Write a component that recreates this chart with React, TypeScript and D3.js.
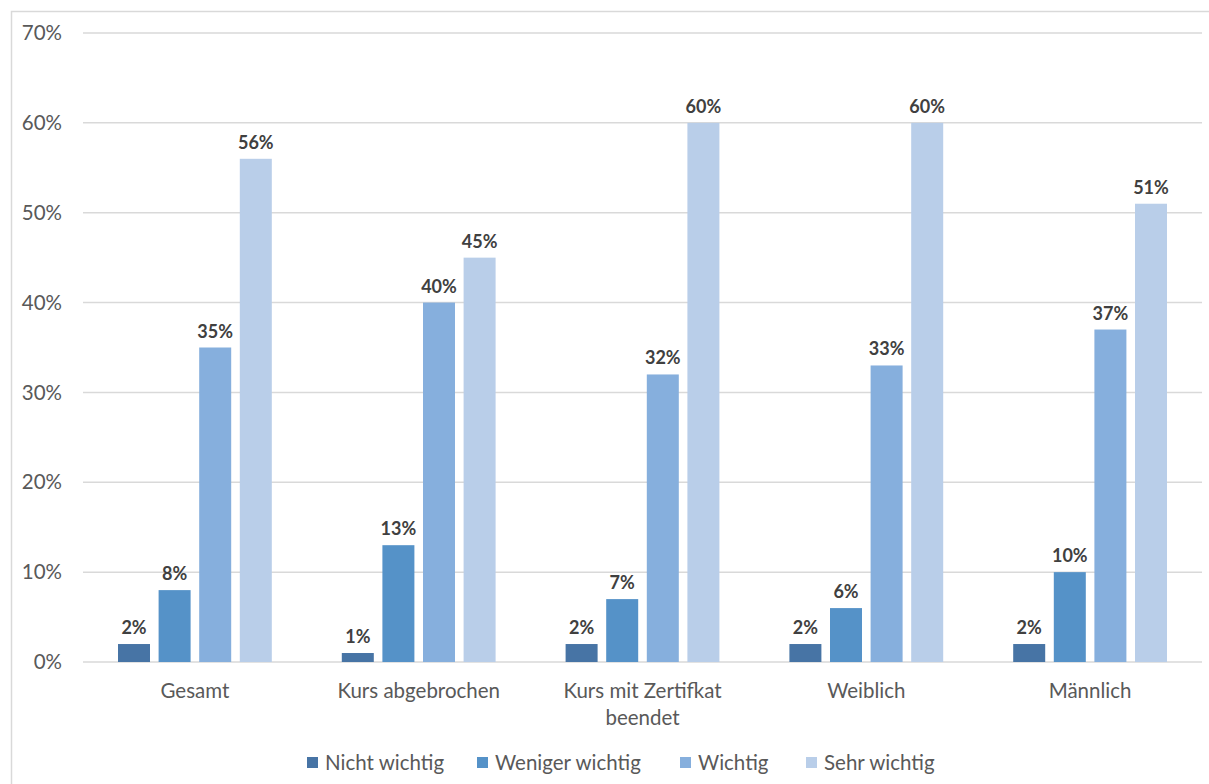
import React from "react";
import * as d3 from "d3";

const categories = ["Gesamt", "Kurs abgebrochen", "Kurs mit Zertifkat\nbeendet", "Weiblich", "Männlich"];
const seriesNames = ["Nicht wichtig", "Weniger wichtig", "Wichtig", "Sehr wichtig"];
const nichtWichtig = [2, 1, 2, 2, 2];
const wenigerWichtig = [8, 13, 7, 6, 10];
const wichtig = [35, 40, 32, 33, 37];
const sehrWichtig = [56, 45, 60, 60, 51];
const yTicks = [0, 10, 20, 30, 40, 50, 60, 70];
const colors = ["#4774A5", "#5592C8", "#86AFDD", "#B9CEE9"];

const series = [nichtWichtig, wenigerWichtig, wichtig, sehrWichtig];

export default function App() {
  const W = 1209, H = 784;
  const plotL = 83, plotR = 1202, plotT = 33, plotB = 662;
  const font = "Lato, 'Open Sans', sans-serif";
  const x0 = d3.scaleBand<number>().domain(d3.range(categories.length)).range([plotL, plotR]).paddingInner(0).paddingOuter(0);
  const y = d3.scaleLinear().domain([0, 70]).range([plotB, plotT]);
  const groupW = x0.bandwidth();
  const barW = 32;
  const gap = 8.6;
  const totalW = barW * 4 + gap * 3;

  return (
    <svg width={W} height={H} style={{ position: "absolute", left: 0, top: 0, background: "#fff" }}>
      <rect x={11.5} y={11.5} width={W} height={H} fill="#fff" stroke="#d9d9d9" strokeWidth={1.5} />
      {yTicks.map((t) => (
        <g key={t}>
          <line x1={plotL} x2={plotR} y1={y(t)} y2={y(t)} stroke="#d9d9d9" strokeWidth={1.5} />
          <text x={62} y={y(t)} dy="0.35em" textAnchor="end" fontFamily={font} fontSize={20.5} fill="#595959">
            {t}%
          </text>
        </g>
      ))}
      {categories.map((c, i) => {
        const cx = (x0(i) as number) + groupW / 2;
        const start = cx - totalW / 2;
        const lines = c.split("\n");
        return (
          <g key={c}>
            {series.map((s, j) => {
              const bx = start + j * (barW + gap);
              const v = s[i];
              return (
                <g key={j}>
                  <rect x={bx} y={y(v)} width={barW} height={plotB - y(v)} fill={colors[j]} />
                  <text x={bx + barW / 2} y={y(v) - 10} textAnchor="middle" fontFamily={font} fontSize={18} fontWeight="bold" fill="#404040">
                    {v}%
                  </text>
                </g>
              );
            })}
            {lines.map((l, k) => (
              <text key={k} x={cx} y={698 + k * 27} textAnchor="middle" fontFamily={font} fontSize={20.5} fill="#595959">
                {l}
              </text>
            ))}
          </g>
        );
      })}
      {(() => {
        const legendX = [307, 477, 680, 806];
        return seriesNames.map((n, j) => (
          <g key={n}>
            <rect x={legendX[j]} y={757} width={11} height={11} fill={colors[j]} />
            <text x={legendX[j] + 18} y={763} dy="0.35em" fontFamily={font} fontSize={20.5} fill="#595959">
              {n}
            </text>
          </g>
        ));
      })()}
    </svg>
  );
}
